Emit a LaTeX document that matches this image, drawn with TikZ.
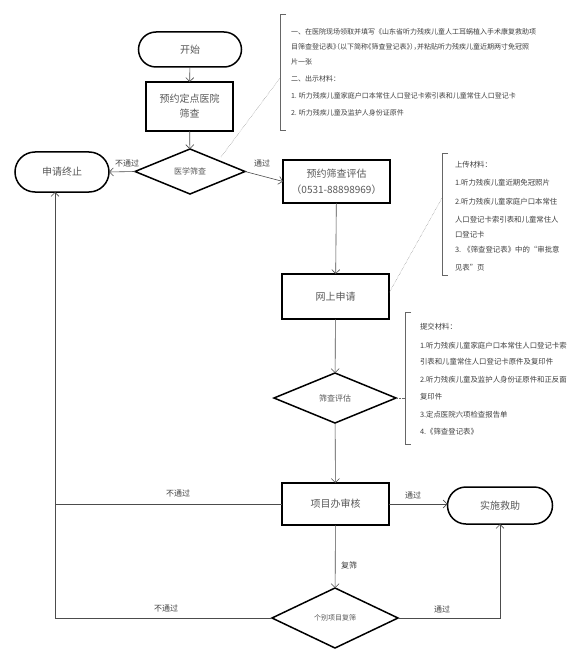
\documentclass[tikz,border=0pt]{standalone}
\usepackage{fontspec}
\setmainfont{Noto Sans CJK SC}
\usetikzlibrary{shapes.geometric,arrows.meta}
\begin{document}
\begin{tikzpicture}[x=1pt,y=-1pt,
  every node/.style={inner sep=0pt, outer sep=0pt},
  tbox/.style={draw=black, line width=2.4pt, minimum width=107pt, minimum height=44pt, align=center, text=black!65, font=\fontsize{10}{15}\selectfont},
  term/.style={draw=black, line width=1.5pt, rounded corners=18pt, minimum width=100pt, minimum height=37pt, text=black!65, font=\fontsize{10}{12}\selectfont},
  dia/.style={draw=black, diamond, line width=1.5pt, aspect=2.4, text=black!65, font=\fontsize{8}{10}\selectfont},
  conn/.style={draw=black!70, line width=0.6pt, -{Straight Barb[length=4pt,width=8pt]}},
  plainconn/.style={draw=black!70, line width=0.6pt},
  lbl/.style={text=black!75, font=\fontsize{8}{8}\selectfont},
  note/.style={anchor=west, text=black!75, font=\fontsize{7}{7}\selectfont},
  noteb/.style={anchor=west, text=black!75, font=\fontsize{7.4}{7.4}\selectfont},
  brk/.style={draw=black!60, line width=0.6pt},
  dotl/.style={draw=black!60, line width=0.4pt, densely dotted}]
\path[use as bounding box, fill=white] (0,0) rectangle (580,655);

% main nodes
\node[term, minimum width=103pt, minimum height=35pt, rounded corners=17.5pt] (start) at (190,49.5) {开始};
\node[tbox, minimum width=87pt, minimum height=49pt] (yy) at (189.5,106.5) {预约定点医院\\筛查};
\node[dia, minimum width=110pt, minimum height=45pt] (yx) at (190,171.5) {医学筛查};
\node[term, minimum width=94pt, minimum height=40pt, rounded corners=20pt] (stop) at (62,172) {申请终止};
\node[tbox, minimum width=107pt, minimum height=43pt, font=\fontsize{10}{16}\selectfont] (pe) at (336.5,181.5) {预约筛查评估\\（0531-88898969）};
\node[tbox, minimum width=107pt, minimum height=45pt] (ws) at (335.5,296.5) {网上申请};
\node[dia, minimum width=122pt, minimum height=50pt] (sp) at (335,398) {筛查评估};
\node[tbox, minimum width=107pt, minimum height=42pt] (xm) at (335.5,504) {项目办审核};
\node[term, minimum width=105pt, minimum height=37pt, rounded corners=18.5pt] (ss) at (500,505.5) {实施救助};
\node[dia, minimum width=126pt, minimum height=60pt, font=\fontsize{7}{9}\selectfont] (gb) at (335,618) {个别项目复筛};

% connectors
\draw[conn] (start) -- (yy);
\draw[conn] (yy) -- (yx);
\draw[conn] (yx.west) -- (stop.east);
\draw[conn] (yx.east) -- (pe.west);
\draw[conn] (pe) -- (ws);
\draw[conn] (ws) -- (sp);
\draw[conn] (sp) -- (xm);
\draw[conn] (xm.east) -- (ss.west |- xm.east);
\coordinate (L1) at (55,504);
\coordinate (L2) at (55,618);
\coordinate (R1) at (500,618);
\draw[conn] (xm.west) -- (L1) -- (L1 |- stop.south);
\draw[conn] (xm) -- (gb);
\draw[plainconn] (gb.west) -- (L2) -- (L1);
\draw[conn] (gb.east) -- (R1) -- (ss.south);

% labels
\node[lbl] (l1) at (127,163) {不通过};
\node[lbl] (l2) at (262,163) {通过};
\node[lbl] (l3) at (413,495) {通过};
\node[lbl] (l4) at (178,493) {不通过};
\node[lbl] (l5) at (349,565) {复筛};
\node[lbl] (l6) at (166,608) {不通过};
\node[lbl] (l7) at (442,609) {通过};

% annotation 1
\coordinate (b1) at (280,78);
\draw[brk] (286,14) -- (280,14) -- (280,130) -- (286,130);
\draw[dotl] (221,157) -- (b1);
\node[note] (n11) at (291,32) {一、在医院现场领取并填写《山东省听力残疾儿童人工耳蜗植入手术康复救助项};
\node[note] (n12) at (291,47) {\addfontfeature{RawFeature=+halt}目筛查登记表》（以下简称《筛查登记表》），并粘贴听力残疾儿童近期两寸免冠照};
\node[note] (n13) at (291,62) {片一张};
\node[note] (n14) at (291,79) {二、出示材料：};
\node[note] (n15) at (291,96) {1. 听力残疾儿童家庭户口本常住人口登记卡索引表和儿童常住人口登记卡};
\node[note] (n16) at (291,113) {2. 听力残疾儿童及监护人身份证原件};

% annotation 2
\coordinate (b2) at (442,198);
\draw[brk] (448,153) -- (442,153) -- (442,275) -- (448,275);
\draw[dotl] (ws.north east) ++(0,19) -- (b2);
\node[noteb] (n21) at (455,165) {上传材料：};
\node[noteb] (n22) at (455,183) {1.听力残疾儿童近期免冠照片};
\node[noteb] (n23) at (455,202) {2.听力残疾儿童家庭户口本常住};
\node[noteb] (n24) at (455,220) {人口登记卡索引表和儿童常住人};
\node[noteb] (n25) at (455,235) {口登记卡};
\node[noteb] (n26) at (455,250) {3. 《筛查登记表》中的“审批意};
\node[noteb] (n27) at (455,268) {见表”页};

% annotation 3
\coordinate (b3) at (405,398);
\draw[brk] (411,312) -- (405,312) -- (405,444) -- (411,444);
\draw[dotl] (sp.east) -- (b3);
\node[noteb] (n31) at (420,327) {提交材料：};
\node[noteb] (n32) at (420,346) {1.听力残疾儿童家庭户口本常住人口登记卡索};
\node[noteb] (n33) at (420,362) {引表和儿童常住人口登记卡原件及复印件};
\node[noteb] (n34) at (420,380) {2.听力残疾儿童及监护人身份证原件和正反面};
\node[noteb] (n35) at (420,397) {复印件};
\node[noteb] (n36) at (420,415) {3.定点医院六项检查报告单};
\node[noteb] (n37) at (420,432) {4.《筛查登记表》};
\end{tikzpicture}
\end{document}
